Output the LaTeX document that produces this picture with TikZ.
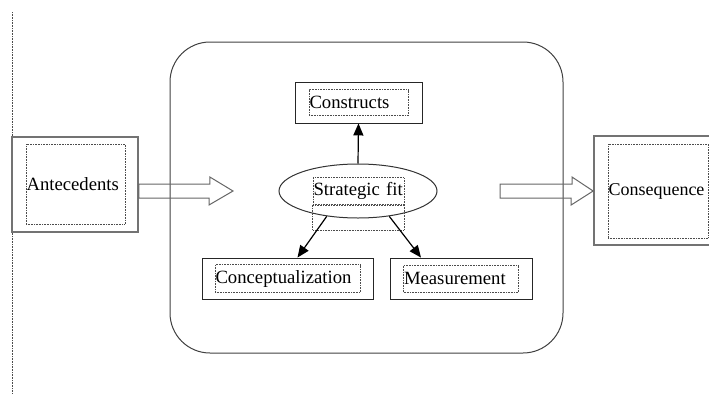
\documentclass[tikz,border=0pt]{standalone}
\usepackage{fontspec}
\setmainfont{Liberation Serif}
\usepackage{tikz}
\usetikzlibrary{shapes.geometric, arrows.meta}
\tikzstyle{outbox} = [rectangle, minimum height=41pt, draw=black!85, line width=0.9pt]
\tikzstyle{sidebox} = [rectangle, draw=black!55, line width=1.7pt]
\tikzstyle{dotline} = [draw=black!70, densely dotted, line width=0.6pt]
\tikzstyle{textbox} = [rectangle, dotline, inner sep=0.5pt, align=left]
\tikzstyle{arrow} = [line width=1.2pt,-{Triangle[length=12pt,width=10pt]}]
\tikzstyle{blockarrow} = [draw=black!60, line width=1pt, line join=miter]

\begin{document}
\begin{tikzpicture}[x=1pt, y=-1pt, node distance=88.5pt, font=\fontsize{18.7}{21}\selectfont]
\clip (0,0) rectangle (709,394);

% page margin
\draw [dotline] (12,12) -- (12,394);

\node (frame) [rectangle, rounded corners=40pt, draw=black!75, line width=1pt, minimum width=393pt, minimum height=311pt] at (366.5,197.5) {};

\node (fit) [ellipse, draw=black!80, line width=1pt, minimum width=158pt, minimum height=54pt, inner sep=0pt] at (358,191) {};
\node (fitT) [textbox, text width=90pt, minimum height=27pt] at (358.5,191) {Strategic fit};
\draw [dotline] (fitT.south west) rectangle ([yshift=-25pt]fitT.south east);

\node (cons) [outbox, above of=fit, xshift=0.5pt, minimum width=127pt] {};
\node (consT) [textbox, text width=98pt, minimum height=26pt] at (cons) {Constructs};

\node (concept) [outbox, below of=fit, xshift=-70.5pt, yshift=1pt, minimum width=171pt] {};
\node (conceptT) [textbox, text width=144pt, minimum height=28pt] at (concept) {Conceptualization};

\node (measure) [outbox, right of=concept, xshift=85pt, minimum width=142pt] {};
\node (measureT) [textbox, text width=114pt, minimum height=27pt] at (measure) {Measurement};

\node (ante) [sidebox, minimum width=126pt, minimum height=95pt] at (75,184.5) {};
\node (anteT) [textbox, text width=98pt, minimum height=80pt] at (75.5,184) {Antecedents};

\node (conseq) [sidebox, minimum width=128pt, minimum height=109pt] at (658,190.5) {};
\node (conseqT) [textbox, text width=99pt, minimum height=94pt, font=\fontsize{18}{21}\selectfont] at (658,191) {Consequence};

\draw [arrow] (fit.north) -- (cons.south);
\draw [arrow] (fit.219) -- ([xshift=10pt]concept.north);
\draw [arrow] (fit.321) -- ([xshift=-40pt]measure.north);

% block arrows
\coordinate (tipL) at (233,191);
\coordinate (tailL) at (ante.east |- tipL);
\coordinate (tailR) at (500,191);
\draw [blockarrow] ([yshift=7pt]tailL) -- ++(71,0) -- ++(0,-7) -- (tipL) -- ++(-24,14) -- ++(0,-7) -- ([yshift=-7pt]tailL) -- cycle;
\draw [blockarrow] ([yshift=7pt]tailR) -- ++(72,0) -- ++(0,-7) -- (conseq.west |- tailR) -- ++(-22,14) -- ++(0,-7) -- ([yshift=-7pt]tailR) -- cycle;

\end{tikzpicture}
\end{document}
